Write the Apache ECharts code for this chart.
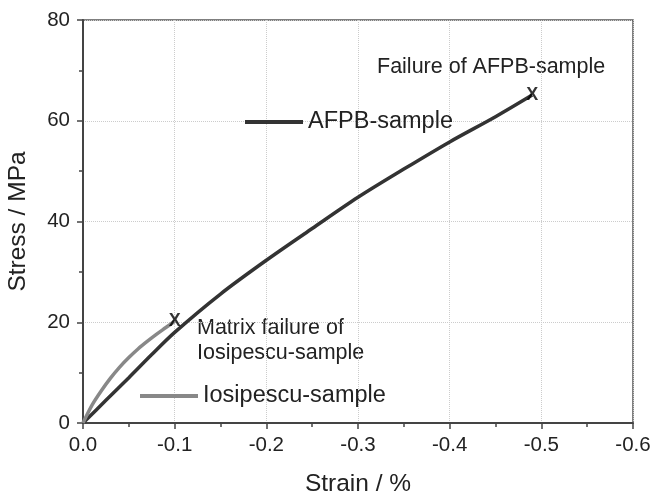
<!DOCTYPE html>
<html>
<head>
<meta charset="utf-8">
<script src="https://cdn.jsdelivr.net/npm/echarts@6/dist/echarts.min.js"></script>
<style>
  html,body{margin:0;padding:0;background:#fff;}
  #chart{width:651px;height:495px;}
</style>
</head>
<body>
<div id="chart"></div>
<script>
// AFPB-sample curve (strain %, stress MPa)
const afpbStrain = [0, -0.025, -0.05, -0.075, -0.1, -0.15, -0.2, -0.25, -0.3, -0.35, -0.4, -0.45, -0.49];
const afpbStress = [0, 4.5, 9.0, 13.6, 18.0, 25.6, 32.3, 38.6, 44.8, 50.4, 55.8, 60.8, 65.1];
// Iosipescu-sample curve
const iosStrain = [0, -0.01, -0.02, -0.03, -0.04, -0.05, -0.06, -0.07, -0.08, -0.09, -0.1];
const iosStress = [0, 3.6, 6.4, 8.9, 11.1, 13.0, 14.7, 16.2, 17.6, 18.9, 20.2];
// failure points
const failStrain = [-0.49, -0.1];
const failStress = [65.1, 20.2];

const zip = (a, b) => a.map((v, i) => [v, b[i]]);
const font = 'Liberation Sans, Arial, sans-serif';

let chart = echarts.init(document.getElementById('chart'));
chart.setOption({
  animation: false,
  backgroundColor: '#fff',
  grid: {left: 83, right: 18, top: 20, bottom: 72, show: true, borderColor: '#555', borderWidth: 1.5,
    outerBoundsMode: 'none', containLabel: false},
  legend: [
    {data: ['AFPB-sample'], left: 240, top: 105, icon: 'rect', itemWidth: 58, itemHeight: 4, itemGap: 8,
      textStyle: {fontFamily: font, fontSize: 23.5, color: '#222'}},
    {data: ['Iosipescu-sample'], left: 135, top: 379, icon: 'rect', itemWidth: 58, itemHeight: 4, itemGap: 8,
      textStyle: {fontFamily: font, fontSize: 23.5, color: '#222'}}
  ],
  xAxis: {
    type: 'value', inverse: true, min: -0.6, max: 0, interval: 0.1,
    name: 'Strain / %', nameLocation: 'middle', nameGap: 49,
    nameTextStyle: {fontFamily: font, fontSize: 24.5, color: '#222'},
    axisLine: {lineStyle: {color: '#444', width: 2}},
    axisTick: {length: 6, lineStyle: {color: '#444', width: 1.5}},
    minorTick: {show: true, splitNumber: 2, length: 4, lineStyle: {color: '#444', width: 1.5}},
    axisLabel: {fontFamily: font, fontSize: 20.5, color: '#222', margin: 12,
      formatter: v => v === 0 ? '0.0' : v.toFixed(1)},
    splitLine: {show: true, lineStyle: {color: '#ccc', type: 'dotted'}}
  },
  yAxis: {
    type: 'value', min: 0, max: 80, interval: 20,
    name: 'Stress / MPa', nameLocation: 'middle', nameGap: 52,
    nameTextStyle: {fontFamily: font, fontSize: 24.5, color: '#222'},
    axisLine: {show: true, lineStyle: {color: '#444', width: 2}},
    axisTick: {show: true, length: 6, lineStyle: {color: '#444', width: 1.5}},
    minorTick: {show: true, splitNumber: 2, length: 4, lineStyle: {color: '#444', width: 1.5}},
    axisLabel: {fontFamily: font, fontSize: 20.5, color: '#222', margin: 13},
    splitLine: {show: true, lineStyle: {color: '#ccc', type: 'dotted'}}
  },
  series: [
    {name: 'AFPB-sample', type: 'line', data: zip(afpbStrain, afpbStress), smooth: 0.3,
      showSymbol: false, symbol: 'none', color: '#333', lineStyle: {color: '#333', width: 3.5}},
    {name: 'Iosipescu-sample', type: 'line', data: zip(iosStrain, iosStress), smooth: 0.3,
      showSymbol: false, symbol: 'none', color: '#888', lineStyle: {color: '#888', width: 3.5}},
    {name: 'failure', type: 'scatter', data: zip(failStrain, failStress), symbolSize: 1,
      itemStyle: {color: 'rgba(0,0,0,0)'}, z: 5,
      label: {show: true, position: 'inside', formatter: 'X', fontFamily: font, fontSize: 18,
        fontWeight: 'bold', color: '#000'}}
  ],
  graphic: [
    {type: 'text', left: 377, top: 56, style: {text: 'Failure of AFPB-sample', font: '21.5px ' + font, fill: '#222'}},
    {type: 'text', left: 197, top: 316, style: {text: 'Matrix failure of\nIosipescu-sample', font: '21.5px ' + font, fill: '#222', lineHeight: 25}}
  ]
});
</script>
</body>
</html>
